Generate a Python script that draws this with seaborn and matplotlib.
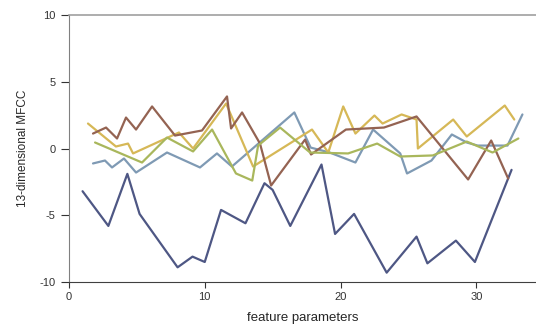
import numpy as np
import pandas as pd
import seaborn as sns
import matplotlib
matplotlib.use("Agg")
import matplotlib.pyplot as plt

# values
navy_x = [1.0, 2.9, 4.3, 5.2, 8.0, 9.1, 10.0, 11.2, 13.0, 14.4, 15.0, 16.3, 18.6, 19.6,
          21.0, 23.4, 25.6, 26.4, 28.5, 29.9, 32.6]
navy_y = [-3.2, -5.8, -1.9, -4.9, -8.9, -8.1, -8.5, -4.6, -5.6, -2.6, -3.1, -5.8, -1.2, -6.4,
          -4.9, -9.3, -6.6, -8.6, -6.9, -8.5, -1.6]

blue_x = [1.77, 2.65, 3.17, 4.05, 4.94, 7.22, 9.65, 10.9, 12.0, 16.6, 17.8, 19.2, 21.1,
          22.4, 24.4, 24.9, 26.7, 28.2, 29.3, 30.1, 32.3, 33.4]
blue_y = [-1.12, -0.90, -1.42, -0.75, -1.80, -0.30, -1.42, -0.37, -1.35, 2.70, 0.07, -0.30,
          -1.05, 1.42, -0.37, -1.87, -0.90, 1.05, 0.45, 0.22, 0.22, 2.55]

gold_x = [1.40, 3.46, 4.35, 4.72, 8.1, 9.14, 11.57, 13.56, 17.9, 19.1, 20.2, 21.1, 22.5,
          23.1, 24.5, 25.6, 25.7, 28.3, 29.3, 32.1, 32.8]
gold_y = [1.87, 0.15, 0.37, -0.37, 1.20, 0.0, 3.37, -1.35, 1.42, -0.30, 3.15, 1.12, 2.47,
          1.87, 2.55, 2.17, 0.0, 2.17, 0.90, 3.22, 2.17]

brown_x = [1.77, 2.73, 3.54, 4.20, 4.94, 6.12, 7.81, 9.80, 11.64, 11.94, 12.75, 14.07,
           14.89, 17.39, 17.83, 20.4, 23.2, 25.6, 29.4, 31.1, 32.35]
brown_y = [1.12, 1.57, 0.75, 2.32, 1.42, 3.15, 0.97, 1.35, 3.90, 1.50, 2.70, 0.37,
           -2.77, 0.67, -0.45, 1.42, 1.57, 2.40, -2.32, 0.60, -2.25]

green_x = [1.92, 5.38, 7.22, 9.14, 10.54, 12.3, 13.5, 13.93, 15.55, 17.76, 20.56, 22.7,
           24.4, 26.8, 29.3, 31.2, 33.1]
green_y = [0.45, -1.05, 0.82, -0.22, 1.42, -1.87, -2.40, 0.22, 1.57, -0.30, -0.37, 0.37,
           -0.60, -0.52, 0.52, -0.30, 0.75]

series = [
    (navy_x, navy_y, "#4e5784"),
    (blue_x, blue_y, "#7f9ab4"),
    (gold_x, gold_y, "#d6b857"),
    (brown_x, brown_y, "#946352"),
    (green_x, green_y, "#a9b75c"),
]

sns.set_style("ticks")
plt.rcParams['font.family'] = ['Liberation Sans', 'DejaVu Sans']
plt.rcParams['axes.unicode_minus'] = False

fig = plt.figure(figsize=(5.36, 3.24), dpi=100)
ax = fig.add_axes([0.1287, 0.1296, 0.8713, 0.8241])

for xs, ys, col in series:
    df = pd.DataFrame({"x": xs, "y": ys})
    sns.lineplot(data=df, x="x", y="y", sort=False, color=col, linewidth=1.6, ax=ax)

ax.set_xlim(0, 34.4)
ax.set_ylim(-10, 10)
ax.set_xticks([0, 10, 20, 30])
ax.set_yticks([-10, -5, 0, 5, 10])
ax.tick_params(axis="both", labelsize=8, length=4, width=0.8, colors="#333333")
ax.tick_params(axis="y", length=6)
ax.spines["right"].set_visible(False)
ax.spines["top"].set_color("#a0a0a0")
ax.spines["top"].set_linewidth(1.2)
ax.spines["left"].set_color("#808080")
ax.spines["bottom"].set_color("#404040")

ax.set_xlabel("feature parameters", fontsize=9.5, labelpad=7)
ax.set_ylabel("13-dimensional MFCC", fontsize=8.5, labelpad=8)

fig.savefig("out.png", dpi=100)
